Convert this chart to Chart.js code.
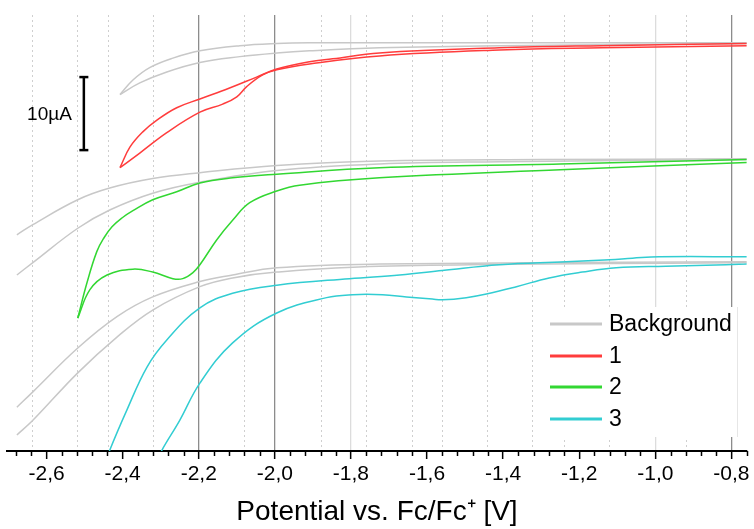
<!DOCTYPE html>
<html>
<head>
<meta charset="utf-8">
<script src="https://cdn.jsdelivr.net/npm/chart.js@4.4.1/dist/chart.umd.min.js"></script>
<style>
  html, body { margin: 0; padding: 0; background: #fff; }
</style>
</head>
<body>
<canvas id="chart" width="754" height="529"></canvas>
<script>
// Data (potential in V vs Fc/Fc+, current in µA, curves are offset vertically)
const seriesNames = ["Background", "1", "2", "3"];

// background of compound 1 (top)
const bgTopUpperV = [-2.407, -2.373, -2.329, -2.268, -2.197, -2.092, -1.995, -1.909, -1.725, -0.76];
const bgTopUpperI = [48.8, 50.8, 52.5, 53.8, 54.8, 55.5, 55.8, 55.9, 55.9, 55.9];
const bgTopLowerV = [-2.407, -2.355, -2.284, -2.197, -2.092, -1.995, -1.909, -1.725, -1.41, -0.76];
const bgTopLowerI = [48.8, 50.4, 51.9, 53.2, 54.0, 54.5, 54.8, 55.2, 55.5, 55.8];

// compound 1
const cv1UpperV = [-2.407, -2.381, -2.347, -2.310, -2.258, -2.197, -2.119, -2.048, -1.995, -1.909, -1.848, -1.725, -1.41, -1.14, -0.76];
const cv1UpperI = [38.8, 41.6, 43.7, 45.3, 47.0, 48.2, 49.7, 51.2, 52.3, 53.3, 53.7, 54.5, 55.2, 55.5, 55.8];
const cv1LowerV = [-2.407, -2.355, -2.284, -2.197, -2.137, -2.100, -2.074, -2.032, -1.995, -1.909, -1.725, -1.41, -1.14, -0.76];
const cv1LowerI = [38.8, 40.8, 43.6, 46.4, 47.5, 48.5, 49.9, 51.5, 52.2, 53.0, 54.1, 54.9, 55.2, 55.5];

// background of compound 2 (middle)
const bgMidUpperV = [-2.678, -2.636, -2.518, -2.434, -2.321, -2.197, -1.995, -1.725, -1.30, -0.76];
const bgMidUpperI = [29.6, 31.0, 34.4, 36.0, 37.3, 38.1, 39.1, 39.7, 39.9, 40.0];
const bgMidLowerV = [-2.678, -2.636, -2.518, -2.434, -2.321, -2.197, -1.995, -1.725, -1.41, -0.76];
const bgMidLowerI = [24.1, 25.8, 30.5, 33.0, 35.3, 36.8, 38.4, 39.3, 39.6, 39.9];

// compound 2
const cv2UpperV = [-2.518, -2.494, -2.468, -2.449, -2.428, -2.402, -2.373, -2.321, -2.258, -2.197, -2.111, -1.995, -1.725, -1.25, -0.76];
const cv2UpperI = [18.2, 23.0, 27.3, 29.2, 30.7, 31.9, 32.9, 34.4, 35.5, 36.7, 37.4, 37.9, 38.8, 39.3, 39.9];
const cv2LowerV = [-2.518, -2.486, -2.441, -2.373, -2.321, -2.268, -2.242, -2.216, -2.197, -2.153, -2.111, -2.066, -1.995, -1.935, -1.725, -1.25, -0.76];
const cv2LowerI = [18.2, 22.1, 24.1, 24.9, 24.5, 23.6, 23.6, 24.4, 25.5, 28.9, 31.6, 34.0, 35.6, 36.4, 37.4, 38.5, 39.5];

// background of compound 3 (bottom)
const bgLowUpperV = [-2.678, -2.636, -2.518, -2.415, -2.321, -2.197, -2.111, -1.995, -1.725, -0.76];
const bgLowUpperI = [6.0, 8.1, 14.1, 18.4, 21.1, 23.2, 24.1, 25.1, 25.6, 25.9];
const bgLowLowerV = [-2.678, -2.636, -2.518, -2.415, -2.321, -2.197, -2.111, -1.995, -1.725, -0.76];
const bgLowLowerI = [2.2, 4.2, 10.7, 15.6, 19.3, 22.5, 23.7, 24.5, 25.3, 25.8];

// compound 3
const cv3UpperV = [-2.452, -2.434, -2.389, -2.336, -2.284, -2.197, -2.111, -1.995, -1.804, -1.672, -1.56, -1.41, -1.234, -1.12, -1.06, -0.99, -0.76];
const cv3UpperI = [-2.6, 0.1, 5.6, 11.5, 15.2, 19.6, 21.6, 22.7, 23.6, 24.1, 24.7, 25.5, 25.9, 26.2, 26.4, 26.6, 26.6];
const cv3LowerV = [-2.315, -2.297, -2.25, -2.197, -2.111, -1.995, -1.864, -1.796, -1.717, -1.654, -1.586, -1.56, -1.497, -1.444, -1.365, -1.279, -1.192, -1.103, -0.972, -0.814, -0.76];
const cv3LowerI = [-1.9, 0.1, 4.2, 9.3, 14.8, 18.9, 21.0, 21.4, 21.4, 21.1, 20.8, 20.7, 21.0, 21.5, 22.5, 23.7, 24.5, 25.1, 25.3, 25.5, 25.6];

// 10 µA scale bar
const scaleBarV = [-2.502, -2.502];
const scaleBarI = [41.2, 51.2];

// axis
const xMin = -2.704, xMax = -0.759;
const yMin = 0, yMax = 59.7;
const solidDarkAt = [-2.2, -2.0, -0.8];
const solidLightAt = [-1.8, -1.0];
const dottedGridAt = [-2.638, -2.518, -2.436, -2.318, -2.079, -1.877, -1.759, -1.638, -1.560, -1.441, -1.323, -1.239, -1.121, -0.919];

const GRAY = "rgb(200,200,200)";
const RED = "rgb(255,60,60)";
const GREEN = "rgb(50,215,50)";
const CYAN = "rgb(50,205,210)";
const seriesColors = [GRAY, RED, GREEN, CYAN];

function pts(v, i) {
    return v.map((x, k) => ({ x: x, y: i[k] }));
}

function curve(label, v, i, color, order) {
    return {
        label: label,
        data: pts(v, i),
        showLine: true,
        borderColor: color,
        borderWidth: 1.5,
        pointRadius: 0,
        tension: 0.4,
        fill: false,
        order: order
    };
}

const near = (a, list) => list.some(b => Math.abs(a - b) < 1e-6);

// minor ticks every 0.04 V, scale bar label and the legend box
const extras = {
    id: "extras",
    afterDraw(chart) {
        const ctx = chart.ctx;
        const x = chart.scales.x, y = chart.scales.y;
        const bottom = chart.chartArea.bottom;
        ctx.save();
        ctx.strokeStyle = "#000";
        ctx.lineWidth = 1.5;
        for (let k = Math.ceil(xMin / 0.04); k * 0.04 <= xMax; k++) {
            const v = k * 0.04;
            if (Math.abs(v / 0.2 - Math.round(v / 0.2)) < 1e-6) continue;
            const px = Math.round(x.getPixelForValue(v)) + 0.5;
            ctx.beginPath();
            ctx.moveTo(px, bottom);
            ctx.lineTo(px, bottom + 5);
            ctx.stroke();
        }

        const bx = x.getPixelForValue(scaleBarV[0]);
        const by = (y.getPixelForValue(scaleBarI[0]) + y.getPixelForValue(scaleBarI[1])) / 2;
        ctx.fillStyle = "#000";
        ctx.font = "19px 'Liberation Sans', Arial, sans-serif";
        ctx.textAlign = "right";
        ctx.textBaseline = "middle";
        ctx.fillText("10µA", bx - 12, by + 1);

        ctx.fillStyle = "#fff";
        ctx.fillRect(540, 307, 197, 130);
        ctx.strokeStyle = "#e6e6e6";
        ctx.lineWidth = 1;
        ctx.beginPath();
        ctx.moveTo(737.5, 307);
        ctx.lineTo(737.5, 437);
        ctx.stroke();
        const rows = [324, 356, 387, 419];
        ctx.font = "23px 'Liberation Sans', Arial, sans-serif";
        ctx.textAlign = "left";
        seriesNames.forEach((name, k) => {
            ctx.strokeStyle = seriesColors[k];
            ctx.lineWidth = 3;
            ctx.beginPath();
            ctx.moveTo(550, rows[k]);
            ctx.lineTo(602, rows[k]);
            ctx.stroke();
            ctx.fillStyle = "#000";
            ctx.fillText(name, 609, rows[k] + 1);
        });
        ctx.restore();
    }
};

const datasets = [
    curve(seriesNames[0], bgTopUpperV, bgTopUpperI, GRAY, 3),
    curve(seriesNames[0], bgTopLowerV, bgTopLowerI, GRAY, 3),
    curve(seriesNames[0], bgMidUpperV, bgMidUpperI, GRAY, 3),
    curve(seriesNames[0], bgMidLowerV, bgMidLowerI, GRAY, 3),
    curve(seriesNames[0], bgLowUpperV, bgLowUpperI, GRAY, 3),
    curve(seriesNames[0], bgLowLowerV, bgLowLowerI, GRAY, 3),
    curve(seriesNames[1], cv1UpperV, cv1UpperI, RED, 1),
    curve(seriesNames[1], cv1LowerV, cv1LowerI, RED, 1),
    curve(seriesNames[2], cv2UpperV, cv2UpperI, GREEN, 1),
    curve(seriesNames[2], cv2LowerV, cv2LowerI, GREEN, 1),
    curve(seriesNames[3], cv3UpperV, cv3UpperI, CYAN, 1),
    curve(seriesNames[3], cv3LowerV, cv3LowerI, CYAN, 1),
    {
        label: "scale",
        data: pts(scaleBarV, scaleBarI),
        showLine: true,
        borderColor: "#000",
        borderWidth: 2.5,
        pointStyle: "line",
        pointRadius: 4.5,
        pointBorderWidth: 2.5,
        pointBorderColor: "#000",
        order: 0
    }
];

new Chart(document.getElementById("chart").getContext("2d"), {
    type: "scatter",
    data: { datasets: datasets },
    options: {
        responsive: false,
        animation: false,
        layout: { padding: { left: 7, right: 6, top: 15, bottom: 0 } },
        plugins: {
            legend: { display: false },
            tooltip: { enabled: false }
        },
        scales: {
            x: {
                type: "linear",
                position: "bottom",
                min: xMin,
                max: xMax,
                afterFit: s => { s.height = 78; },
                border: { display: true, color: "#000", width: 2 },
                grid: {
                    drawOnChartArea: true,
                    color: c => near(c.tick.value, solidDarkAt) ? "#8c8c8c"
                        : near(c.tick.value, solidLightAt) ? "#dcdcdc" : "rgba(0,0,0,0)",
                    lineWidth: 1.3,
                    tickLength: 8,
                    tickColor: "#000",
                    tickWidth: 1.5
                },
                ticks: {
                    stepSize: 0.2,
                    includeBounds: false,
                    autoSkip: false,
                    maxRotation: 0,
                    padding: 3,
                    color: "#000",
                    font: { family: "'Liberation Sans', Arial, sans-serif", size: 21 },
                    callback: v => v.toFixed(1).replace(".", ",")
                },
                title: {
                    display: true,
                    text: "Potential vs. Fc/Fc⁺ [V]",
                    color: "#000",
                    font: { family: "'Liberation Sans', Arial, sans-serif", size: 28 },
                    padding: { top: 0, bottom: 0 }
                }
            },
            xg: {
                type: "linear",
                position: "top",
                min: xMin,
                max: xMax,
                afterBuildTicks: s => { s.ticks = dottedGridAt.map(v => ({ value: v })); },
                afterFit: s => { s.height = 0; },
                border: { display: false, dash: [2, 3] },
                grid: { color: "#cfcfcf", lineWidth: 1, drawTicks: false },
                ticks: { display: false }
            },
            y: {
                type: "linear",
                display: false,
                min: yMin,
                max: yMax
            }
        }
    },
    plugins: [extras]
});
</script>
</body>
</html>
